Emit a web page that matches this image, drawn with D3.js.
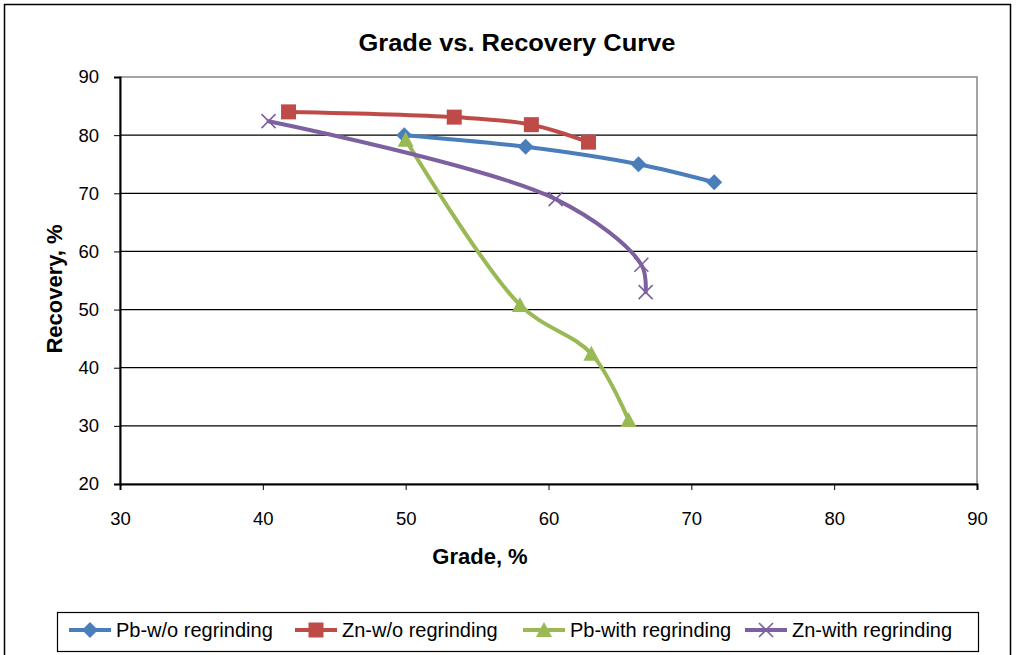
<!DOCTYPE html>
<html>
<head>
<meta charset="utf-8">
<script src="https://cdn.jsdelivr.net/npm/d3@7"></script>
<style>
  body { margin: 0; background: #fff; }
  text { font-family: "Liberation Sans", Arial, sans-serif; }
</style>
</head>
<body>
<div id="chart"></div>
<script>
const seriesNames = ['Pb-w/o regrinding', 'Zn-w/o regrinding', 'Pb-with regrinding', 'Zn-with regrinding']
const pbWoGrade = [49.9, 58.4, 66.3, 71.6]
const pbWoRecovery = [80.0, 78.0, 75.0, 71.9]
const znWoGrade = [41.8, 53.4, 58.8, 62.8]
const znWoRecovery = [84.0, 83.1, 81.8, 78.8]
const pbWithGrade = [50.0, 58.0, 63.0, 65.6]
const pbWithRecovery = [79.2, 50.8, 42.4, 31.0]
const znWithGrade = [40.4, 60.5, 66.5, 66.8]
const znWithRecovery = [82.4, 69.0, 57.7, 53.0]
const xTicks = [30, 40, 50, 60, 70, 80, 90]
const yTicks = [20, 30, 40, 50, 60, 70, 80, 90]

const colors = ['#4a7ebb', '#be4b48', '#98b954', '#7d60a0']
const markers = ['diamond', 'square', 'triangle', 'cross']
const grades = [pbWoGrade, znWoGrade, pbWithGrade, znWithGrade]
const recoveries = [pbWoRecovery, znWoRecovery, pbWithRecovery, znWithRecovery]

const series = seriesNames.map((name, i) => ({
  name,
  color: colors[i],
  marker: markers[i],
  points: grades[i].map((g, j) => ({ x: g, y: recoveries[i][j] }))
}))

const width = 1017
const height = 655
const plot = { left: 120, right: 977, top: 77, bottom: 484 }

const svg = d3.select('#chart')
  .append('svg')
  .attr('width', width)
  .attr('height', height)

// outer chart border
svg.append('rect')
  .attr('x', 4.5)
  .attr('y', 4.5)
  .attr('width', 1006)
  .attr('height', 660)
  .attr('fill', 'none')
  .attr('stroke', '#000')
  .attr('stroke-width', 1.5)

const x = d3.scaleLinear().domain([30, 90]).range([plot.left, plot.right])
const y = d3.scaleLinear().domain([20, 90]).range([plot.bottom, plot.top])

// plot area border (grey)
svg.append('rect')
  .attr('x', plot.left)
  .attr('y', plot.top)
  .attr('width', plot.right - plot.left)
  .attr('height', plot.bottom - plot.top)
  .attr('fill', 'none')
  .attr('stroke', '#868686')
  .attr('stroke-width', 1.5)

// gridlines
svg.append('g')
  .selectAll('line')
  .data(yTicks.filter(t => t > 20 && t < 90))
  .enter().append('line')
  .attr('x1', plot.left)
  .attr('x2', plot.right)
  .attr('y1', d => y(d))
  .attr('y2', d => y(d))
  .attr('stroke', '#000')
  .attr('stroke-width', 1.3)

// axes
const xAxis = d3.axisBottom(x).tickValues(xTicks).tickSize(6).tickPadding(22)
const yAxis = d3.axisLeft(y).tickValues(yTicks).tickSize(6).tickPadding(15)

const gx = svg.append('g')
  .attr('transform', `translate(0,${plot.bottom})`)
  .call(xAxis)
gx.select('.domain').attr('stroke-width', 2)
gx.selectAll('text').attr('font-size', 18.5).attr('fill', '#000')

const gy = svg.append('g')
  .attr('transform', `translate(${plot.left},0)`)
  .call(yAxis)
gy.select('.domain').attr('stroke-width', 2)
gy.selectAll('text').attr('font-size', 18.5).attr('fill', '#000')

// title and axis titles
svg.append('text')
  .attr('x', 517)
  .attr('y', 51)
  .attr('text-anchor', 'middle')
  .attr('font-size', 23.5)
  .attr('font-weight', 'bold')
  .attr('textLength', 317)
  .attr('lengthAdjust', 'spacingAndGlyphs')
  .text('Grade vs. Recovery Curve')

svg.append('text')
  .attr('x', 480)
  .attr('y', 564)
  .attr('text-anchor', 'middle')
  .attr('font-size', 22)
  .attr('font-weight', 'bold')
  .text('Grade, %')

svg.append('text')
  .attr('transform', 'translate(62,289) rotate(-90)')
  .attr('text-anchor', 'middle')
  .attr('font-size', 22)
  .attr('font-weight', 'bold')
  .text('Recovery, %')

function markerPath (type) {
  if (type === 'diamond') return 'M0,-8L8,0L0,8L-8,0Z'
  if (type === 'square') return 'M-7.5,-7.5H7.5V7.5H-7.5Z'
  if (type === 'triangle') return 'M0,-8L8,7L-8,7Z'
  return 'M-7,-7L7,7M-7,7L7,-7'
}

function drawMarker (g, type, color) {
  const p = g.append('path').attr('d', markerPath(type))
  if (type === 'cross') {
    p.attr('fill', 'none').attr('stroke', color).attr('stroke-width', 1.6)
  } else {
    p.attr('fill', color)
  }
}

const line = d3.line()
  .x(d => x(d.x))
  .y(d => y(d.y))
  .curve(d3.curveCatmullRom.alpha(0.5))

const seriesG = svg.append('g')
series.forEach(s => {
  seriesG.append('path')
    .datum(s.points)
    .attr('d', line)
    .attr('fill', 'none')
    .attr('stroke', s.color)
    .attr('stroke-width', 4)
    .attr('stroke-linecap', 'round')
})
series.forEach(s => {
  s.points.forEach(p => {
    const mg = seriesG.append('g').attr('transform', `translate(${x(p.x)},${y(p.y)})`)
    drawMarker(mg, s.marker, s.color)
  })
})

// legend
const legend = svg.append('g')
legend.append('rect')
  .attr('x', 57.5)
  .attr('y', 612.5)
  .attr('width', 921)
  .attr('height', 39)
  .attr('fill', '#fff')
  .attr('stroke', '#000')
  .attr('stroke-width', 1.2)

const legendX = [69, 295, 523, 745]
series.forEach((s, i) => {
  const lg = legend.append('g').attr('transform', `translate(${legendX[i]},630)`)
  lg.append('line')
    .attr('x1', 0)
    .attr('x2', 42)
    .attr('stroke', s.color)
    .attr('stroke-width', 4)
  const mg = lg.append('g').attr('transform', 'translate(21,0)')
  drawMarker(mg, s.marker, s.color)
  lg.append('text')
    .attr('x', 47)
    .attr('y', 7)
    .attr('font-size', 20)
    .text(s.name)
})
</script>
</body>
</html>
